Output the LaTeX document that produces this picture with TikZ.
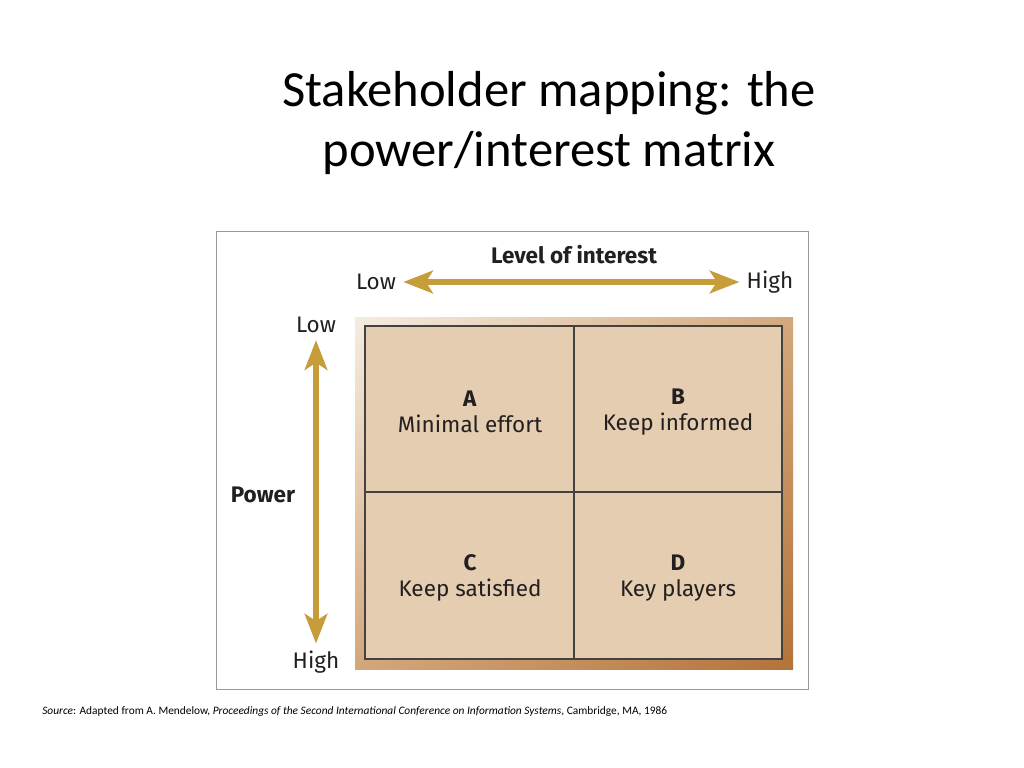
\documentclass[tikz,border=0pt]{standalone}
\usepackage{fontspec}
\setmainfont{Carlito}
\newfontfamily\dinfont{Fira Sans}
\usetikzlibrary{arrows.meta,positioning,shadings}
\definecolor{gold}{HTML}{C79C3B}
\definecolor{panel}{HTML}{E4CDB1}
\definecolor{framelight}{HTML}{F5EDE1}
\definecolor{framemid}{HTML}{D3A77B}
\definecolor{framedark}{HTML}{B3733A}
\definecolor{ink}{HTML}{231F20}
\tikzset{
  axislabel/.style={font=\dinfont\fontsize{16}{18}\selectfont, text=ink, inner sep=0pt},
  axistitle/.style={font=\dinfont\bfseries\fontsize{16}{18}\selectfont, text=ink, inner sep=0pt},
  celltext/.style={font=\dinfont\fontsize{16}{18.5}\selectfont, text=ink, align=center},
  goldarrow/.style={draw=gold, line width=4.2pt,
    {Stealth[length=21pt, width=16pt, inset=5pt]}-{Stealth[length=21pt, width=16pt, inset=5pt]}},
}
\begin{document}
\begin{tikzpicture}[x=0.025cm, y=-0.025cm]
\useasboundingbox (0,0) rectangle (1024,768);

\node[font=\fontsize{36}{42.5}\selectfont, align=center] (title) at (549,123)
  {Stakeholder mapping: the\\power/interest matrix};

\draw[draw=black!40, line width=0.7pt] (216,231) rectangle (808,689);

% matrix
\shade[upper left=framelight, upper right=framemid, lower left=framemid, lower right=framedark]
  (355,317) rectangle (793,669);
\draw[fill=panel, draw=ink!85, line width=1pt] (365,326) rectangle (782,659);
\draw[draw=ink!85, line width=0.8pt] (574,326) -- (574,659);
\draw[draw=ink!85, line width=0.8pt] (365,492) -- (782,492);

\node[celltext] (cellA) at (470,412) {\textbf{A}\\Minimal effort};
\node[celltext] (cellB) at (678,412) {\textbf{B}\\Keep informed};
\node[celltext] (cellC) at (470,578) {\textbf{C}\\Keep satisfied};
\node[celltext] (cellD) at (678,578) {\textbf{D}\\Key players};

% axes
\node[axistitle] (interest) at (574,255) {Level of interest};
\node[axislabel] (lowX) at (376,282) {Low};
\node[axislabel] (highX) at (770,282) {High};
\draw[goldarrow, shorten <=5pt, shorten >=5pt] (lowX.east) -- (highX.west);

\node[axistitle] (power) at (263,495) {Power};
\node[axislabel] (lowY) at (316,325) {Low};
\node[axislabel] (highY) at (316,662) {High};
\draw[goldarrow, shorten <=5pt, shorten >=5pt] (lowY.south) -- (highY.north);

\node[anchor=west, font=\fontsize{8.1}{9}\selectfont, inner sep=0pt] (source) at (42,712)
  {\textit{Source}: Adapted from A. Mendelow, \textit{Proceedings of the Second International Conference on Information Systems}, Cambridge, MA, 1986};
\end{tikzpicture}
\end{document}
